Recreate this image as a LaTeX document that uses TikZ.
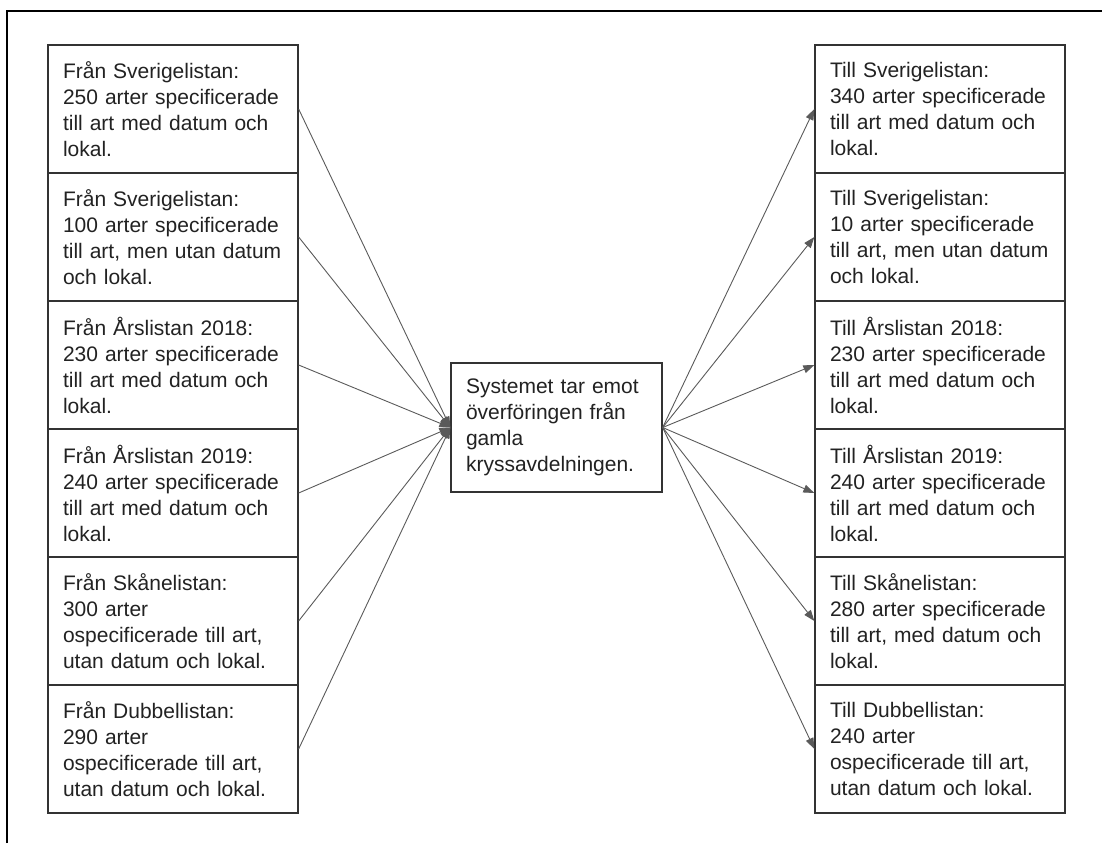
\documentclass[tikz,border=0pt]{standalone}
\usepackage{fontspec}
\setmainfont{Liberation Sans}
\usepackage{tikz}
\usetikzlibrary{arrows.meta}
\definecolor{linegray}{HTML}{5A5A5A}
\definecolor{boxline}{HTML}{333333}
\definecolor{textgray}{HTML}{222222}

\begin{document}
\begin{tikzpicture}[
  x=1pt, y=-1pt,
  box/.style={draw=boxline, line width=1.3pt, fill=white, minimum width=250pt,
    minimum height=128pt, text width=220pt, inner xsep=15pt, align=left,
    text=textgray, font=\fontsize{21}{26}\selectfont},
  arr/.style={-{Triangle[length=11pt,width=8pt]}, linegray, line width=0.9pt}
]
\useasboundingbox (0,0) rectangle (1102,843);
% open frame
\draw[line width=1.8pt] (7,843) -- (7,11) -- (1102,11);

% source lists
\foreach \i/\txt in {
  1/{Från Sverigelistan:\\250 arter specificerade\\till art med datum och\\lokal.},
  2/{Från Sverigelistan:\\100 arter specificerade\\till art, men utan datum\\och lokal.},
  3/{Från Årslistan 2018:\\230 arter specificerade\\till art med datum och\\lokal.},
  4/{Från Årslistan 2019:\\240 arter specificerade\\till art med datum och\\lokal.},
  5/{Från Skånelistan:\\300 arter\\ospecificerade till art,\\utan datum och lokal.},
  6/{Från Dubbellistan:\\290 arter\\ospecificerade till art,\\utan datum och lokal.}} {
  \node[box] (from\i) at (173,128*\i-19) {\txt};
}

% target lists
\foreach \i/\txt in {
  1/{Till Sverigelistan:\\340 arter specificerade\\till art med datum och\\lokal.},
  2/{Till Sverigelistan:\\10 arter specificerade\\till art, men utan datum\\och lokal.},
  3/{Till Årslistan 2018:\\230 arter specificerade\\till art med datum och\\lokal.},
  4/{Till Årslistan 2019:\\240 arter specificerade\\till art med datum och\\lokal.},
  5/{Till Skånelistan:\\280 arter specificerade\\till art, med datum och\\lokal.},
  6/{Till Dubbellistan:\\240 arter\\ospecificerade till art,\\utan datum och lokal.}} {
  \node[box] (to\i) at (940,128*\i-19) {\txt};
}

\node[box, minimum width=211pt, minimum height=129pt, text width=181pt] (sys) at (556.5,427.5)
  {Systemet tar emot\\överföringen från\\gamla\\kryssavdelningen.};

\foreach \i in {1,...,6} {
  \draw[arr] (from\i.east) -- (sys.west);
  \draw[arr] (sys.east) -- (to\i.west);
}
\end{tikzpicture}
\end{document}
